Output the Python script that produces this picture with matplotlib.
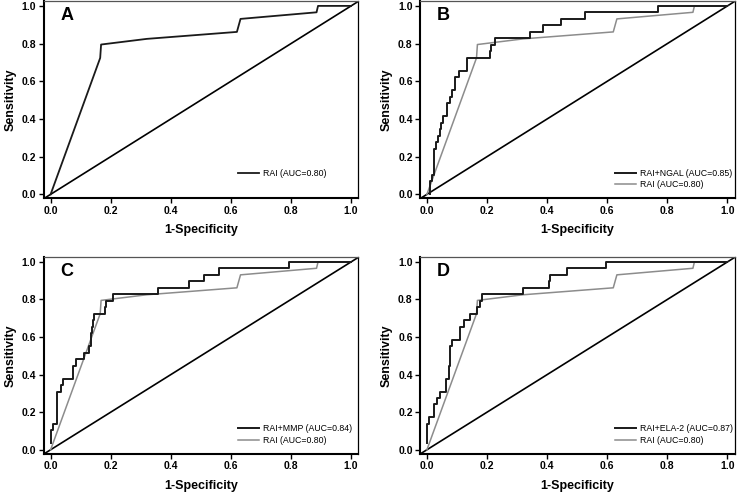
import matplotlib
matplotlib.use("Agg")
import matplotlib.pyplot as plt
import numpy as np

plt.rcParams['font.family'] = ['Liberation Sans', 'DejaVu Sans']

# ---- data ----
rai_fpr = [0.0, 0.165, 0.168, 0.32, 0.62, 0.632, 0.885, 0.89, 1.0]
rai_tpr = [0.0, 0.724, 0.795, 0.825, 0.862, 0.931, 0.966, 1.0, 1.0]

ngal_fpr = [0.010, 0.010, 0.018, 0.018, 0.024, 0.024, 0.030, 0.030, 0.036, 0.036,
            0.042, 0.042, 0.048, 0.048, 0.054, 0.054, 0.068, 0.068, 0.077, 0.077,
            0.084, 0.084, 0.094, 0.094, 0.107, 0.107, 0.134, 0.134, 0.209, 0.209,
            0.213, 0.213, 0.228, 0.228, 0.342, 0.342, 0.386, 0.386, 0.445, 0.445,
            0.526, 0.526, 0.768, 0.768, 1.0]
ngal_tpr = [0.000, 0.069, 0.069, 0.103, 0.103, 0.241, 0.241, 0.276, 0.276, 0.310,
            0.310, 0.345, 0.345, 0.379, 0.379, 0.414, 0.414, 0.483, 0.483, 0.517,
            0.517, 0.552, 0.552, 0.621, 0.621, 0.655, 0.655, 0.724, 0.724, 0.759,
            0.759, 0.793, 0.793, 0.828, 0.828, 0.862, 0.862, 0.897, 0.897, 0.931,
            0.931, 0.966, 0.966, 1.0, 1.0]

mmp_fpr = [0.000, 0.000, 0.009, 0.009, 0.022, 0.022, 0.035, 0.035, 0.042, 0.042,
           0.075, 0.075, 0.083, 0.083, 0.110, 0.110, 0.128, 0.128, 0.133, 0.133,
           0.135, 0.135, 0.138, 0.138, 0.141, 0.141, 0.145, 0.145, 0.180, 0.180,
           0.185, 0.185, 0.209, 0.209, 0.357, 0.357, 0.459, 0.459, 0.510, 0.510,
           0.560, 0.560, 0.793, 0.793, 1.0]
mmp_tpr = [0.034, 0.103, 0.103, 0.138, 0.138, 0.310, 0.310, 0.345, 0.345, 0.379,
           0.379, 0.448, 0.448, 0.483, 0.483, 0.517, 0.517, 0.552, 0.552, 0.586,
           0.586, 0.621, 0.621, 0.655, 0.655, 0.690, 0.690, 0.724, 0.724, 0.759,
           0.759, 0.793, 0.793, 0.828, 0.828, 0.862, 0.862, 0.897, 0.897, 0.931,
           0.931, 0.966, 0.966, 1.0, 1.0]

ela_fpr = [0.001, 0.001, 0.008, 0.008, 0.025, 0.025, 0.034, 0.034, 0.045, 0.045,
           0.063, 0.063, 0.074, 0.074, 0.078, 0.078, 0.084, 0.084, 0.109, 0.109,
           0.122, 0.122, 0.145, 0.145, 0.168, 0.168, 0.175, 0.175, 0.184, 0.184,
           0.320, 0.320, 0.405, 0.405, 0.410, 0.410, 0.465, 0.465, 0.595, 0.595, 1.0]
ela_tpr = [0.034, 0.138, 0.138, 0.172, 0.172, 0.241, 0.241, 0.276, 0.276, 0.310,
           0.310, 0.379, 0.379, 0.448, 0.448, 0.552, 0.552, 0.586, 0.586, 0.655,
           0.655, 0.690, 0.690, 0.724, 0.724, 0.759, 0.759, 0.793, 0.793, 0.828,
           0.828, 0.862, 0.862, 0.897, 0.897, 0.931, 0.931, 0.966, 0.966, 1.0, 1.0]

panel_letters = ["A", "B", "C", "D"]
combo_labels = [None, "RAI+NGAL (AUC=0.85)", "RAI+MMP (AUC=0.84)", "RAI+ELA-2 (AUC=0.87)"]
combo_fpr = [None, ngal_fpr, mmp_fpr, ela_fpr]
combo_tpr = [None, ngal_tpr, mmp_tpr, ela_tpr]
rai_label = "RAI (AUC=0.80)"
ticks = [0.0, 0.2, 0.4, 0.6, 0.8, 1.0]
tick_labels = ["0.0", "0.2", "0.4", "0.6", "0.8", "1.0"]

W, H = 737, 494
fig = plt.figure(figsize=(W / 100, H / 100), dpi=100)

# axes boxes in pixels: left, right, top, bottom
boxes = [(44, 358.3, 1, 198.3), (420.3, 734.7, 1, 198.3),
         (44, 358.3, 257, 453.7), (420.3, 734.7, 257, 453.7)]

for i, (l, r, t, b) in enumerate(boxes):
    ax = fig.add_axes([l / W, 1 - b / H, (r - l) / W, (b - t) / H])
    ax.set_xlim(-0.022, 1.024)
    ax.set_ylim(-0.021, 1.026)
    ax.axline((0, 0), (1, 1), color='black', lw=1.2, zorder=1)
    handles = []
    if combo_fpr[i] is not None:
        h1, = ax.plot(combo_fpr[i], combo_tpr[i], color='#1a1a1a', lw=1.4,
                      label=combo_labels[i], zorder=3)
        h2, = ax.plot(rai_fpr, rai_tpr, color='#8c8c8c', lw=1.1, label=rai_label, zorder=2)
        handles = [h1, h2]
    else:
        h2, = ax.plot(rai_fpr, rai_tpr, color='#1a1a1a', lw=1.3, label=rai_label, zorder=2)
        handles = [h2]
    ax.legend(handles=handles, loc='upper left', bbox_to_anchor=(0.625, 0.135),
              bbox_transform=ax.transData, frameon=False, fontsize=6.3,
              handlelength=2.4, handletextpad=0.45, labelspacing=0.25, borderpad=0,
              borderaxespad=0)
    ax.text(0.033, 0.95, panel_letters[i], fontsize=13, fontweight='bold',
            ha='left', va='center')
    ax.set_xticks(ticks)
    ax.set_xticklabels(tick_labels)
    ax.set_yticks(ticks)
    ax.set_yticklabels(tick_labels)
    ax.tick_params(direction='out', length=3.5, width=1, labelsize=7.5, pad=2)
    for lab in ax.get_xticklabels() + ax.get_yticklabels():
        lab.set_fontweight('bold')
    ax.spines['left'].set_linewidth(1.5)
    ax.spines['bottom'].set_linewidth(1.5)
    ax.spines['right'].set_linewidth(0.9)
    ax.spines['top'].set_linewidth(0.9)
    ax.spines['top'].set_color('#555555')
    ax.set_xlabel("1-Specificity", fontsize=9, fontweight='bold', labelpad=6)
    ax.set_ylabel("Sensitivity", fontsize=9, fontweight='bold', labelpad=4)

fig.savefig("out.png", dpi=100)
